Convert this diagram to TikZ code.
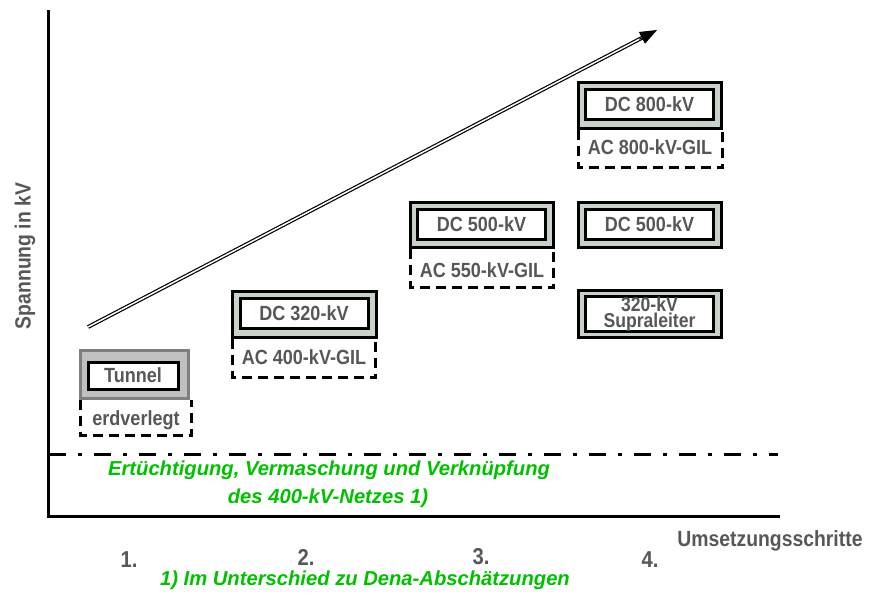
\documentclass[tikz,border=0pt]{standalone}
\usepackage{fontspec}
\setmainfont{Liberation Sans}
\newfontfamily\gyfont[FakeStretch=0.88]{Liberation Sans Bold}
\newfontfamily\grfont{Liberation Sans}
\usetikzlibrary{calc,arrows.meta}
\definecolor{txtgray}{HTML}{575757}
\definecolor{boxfill}{HTML}{C9D2C9}
\definecolor{tunfill}{HTML}{C0C0C0}
\definecolor{tunline}{HTML}{7F7F7F}
\definecolor{grn}{HTML}{00C000}
\tikzset{
  outerbox/.style={draw=black, line width=3pt, fill=boxfill, minimum width=#1, inner sep=0pt},
  innerbox/.style={draw=black, line width=3pt, fill=white, minimum width=128pt, minimum height=30pt, inner sep=0pt,
     font=\gyfont\fontsize{20.5}{21}\selectfont, text=txtgray},
  dashbox/.style={draw=black, line width=2.6pt, dash pattern=on 10pt off 6pt},
  boxtxt/.style={font=\gyfont\fontsize{20.5}{21}\selectfont, text=txtgray, inner sep=0pt},
  lbl/.style={font=\gyfont\fontsize{22}{23}\selectfont, text=txtgray, inner sep=0pt},
  numlbl/.style={font=\gyfont\fontsize{23}{24}\selectfont, text=txtgray, inner sep=0pt},
  grtxt/.style={font=\grfont\bfseries\itshape\fontsize{20.2}{21}\selectfont, text=grn, inner sep=0pt},
  axis/.style={line width=3pt, line cap=rect},
}
\begin{document}
\begin{tikzpicture}[x=1pt,y=-1pt]
\useasboundingbox (0,0) rectangle (874,594);
% axes
\coordinate (yt) at (48,12);
\coordinate (org) at (48,516);
\coordinate (xe) at (778,516);
\draw[axis] (yt) -- (org) -- (xe);
% dash-dot line
\coordinate (dl) at (49,454);
\coordinate (dr) at (778,454);
\draw[line width=3pt, dash pattern=on 17pt off 12pt on 4pt off 12pt] (dl) -- (dr);
% green text
\node[grtxt] (g1) at (329,470) {Ertüchtigung, Vermaschung und Verknüpfung};
\node[grtxt] (g2) at (328,498) {des 400-kV-Netzes 1)};
\node[grtxt] (foot) at (365,580) {1) Im Unterschied zu Dena-Abschätzungen};
% axis labels
\node[lbl, rotate=90] (ylab) at (25,256) {Spannung in kV};
\node[lbl] (xlab) at (770,541) {Umsetzungsschritte};
\node[numlbl] (s1) at (129,560) {1.};
\node[numlbl] (s2) at (306,557) {2.};
\node[numlbl] (s3) at (481,557) {3.};
\node[numlbl] (s4) at (650,560) {4.};
% big arrow
\coordinate (at) at (88,327);
\coordinate (ah) at (657,30);
\draw[line width=1.2pt, double=white, double distance=1.5pt, shorten >=14pt] (at) -- (ah);
\draw[line width=1pt, -{Triangle[length=17pt,width=13pt]}] ($(ah)!20pt!(at)$) -- (ah);
% Tunnel
\node[draw=tunline, line width=3pt, fill=tunfill, minimum width=108pt, minimum height=48pt, inner sep=0pt] (o1) at (134,374) {};
\node[innerbox, minimum width=90pt, minimum height=27pt] (i1) at (133,375.5) {Tunnel};
\draw[dashbox] ($(o1.south west)+(2,0)$) -- ++(0,36) -| ($(o1.south east)+(2,0)$);
\node[boxtxt] (t1) at (136,420) {erdverlegt};
% step 2
\node[outerbox=144pt, minimum height=46pt] (o2) at (304,314) {};
\node[innerbox] (i2) at (304,313) {DC 320-kV};
\draw[dashbox] ($(o2.south west)+(2,0)$) -- ++(0,39) -| ($(o2.south east)+(-2,0)$);
\node[boxtxt] (t2) at (304,357) {AC 400-kV-GIL};
% step 3
\node[outerbox=143pt, minimum height=45pt] (o3) at (481.5,224.5) {};
\node[innerbox] (i3) at (481.5,224) {DC 500-kV};
\draw[dashbox] ($(o3.south west)+(2,0)$) -- ++(0,39) -| ($(o3.south east)+(-1,0)$);
\node[boxtxt] (t3) at (482,270) {AC 550-kV-GIL};
% step 4
\node[outerbox=143pt, minimum height=46pt] (o4) at (649.5,105) {};
\node[innerbox] (i4) at (649.5,104.5) {DC 800-kV};
\draw[dashbox] ($(o4.south west)+(2,0)$) -- ++(0,38) -| ($(o4.south east)+(0,0)$);
\node[boxtxt] (t4) at (650,147) {AC 800-kV-GIL};
\node[outerbox=143pt, minimum height=45pt] (o5) at (649.5,224.5) {};
\node[innerbox] (i5) at (649.5,224) {DC 500-kV};
\node[outerbox=143pt, minimum height=47pt] (o6) at (649.5,313.5) {};
\node[innerbox, align=center, font=\gyfont\fontsize{20}{12.5}\selectfont] (i6) at (649.5,314) {320-kV\\Supraleiter};
\end{tikzpicture}
\end{document}
